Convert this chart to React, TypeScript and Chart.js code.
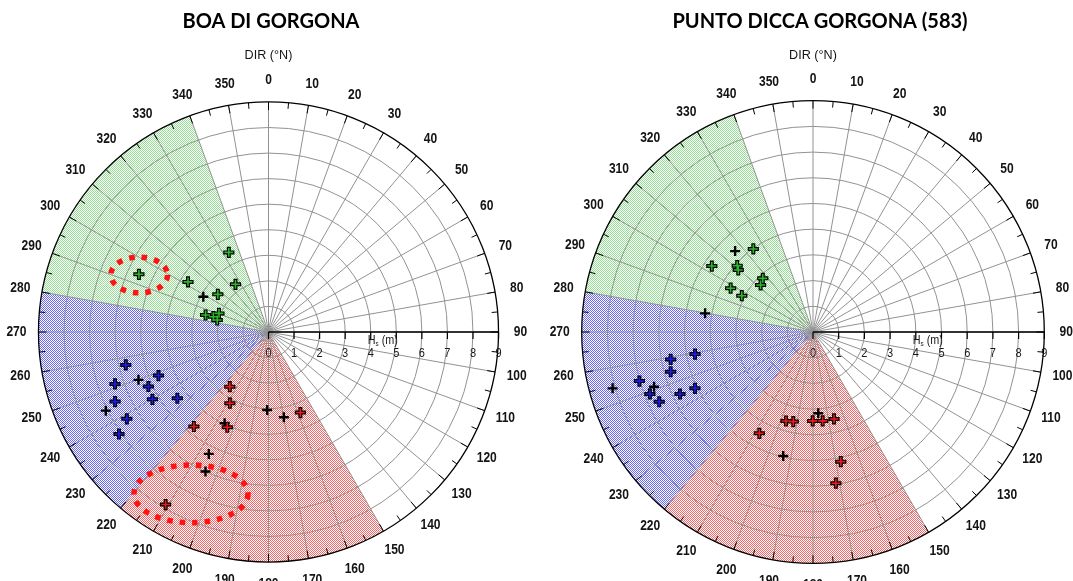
import { useEffect, useRef } from "react";
import { Chart, registerables } from "chart.js";

Chart.register(...registerables);

// Direction labels round the rim (°N) and Hs ticks along the 90° radius (m)
const DIR_LABELS = [
  0, 10, 20, 30, 40, 50, 60, 70, 80, 90, 100, 110, 120, 130, 140, 150, 160, 170,
  180, 190, 200, 210, 220, 230, 240, 250, 260, 270, 280, 290, 300, 310, 320, 330, 340, 350,
];
const HS_TICKS = [0, 1, 2, 3, 4, 5, 6, 7, 8, 9];
const HS_MAX = 9;

// Shaded direction sectors: NW (green), W (blue), S (red)
const SECTOR_FROM = [280, 220, 150];
const SECTOR_TO = [340, 280, 220];
const SECTOR_DOT = ["rgb(150,222,150)", "rgb(104,104,244)", "rgb(242,104,104)"];
const MARK_INK = ["#2ab82a", "#1c1ce6", "#e81c1c"];

// BOA DI GORGONA — direction (°N) and Hs (m)
const boaDirNW = [294.0, 333.5, 301.9, 325.3, 306.6, 285.1, 285.5, 290.6, 283.2];
const boaHsNW = [5.55, 3.48, 3.71, 2.27, 2.47, 2.55, 2.24, 2.07, 2.06];
const boaDirW = [257.0, 248.4, 251.3, 245.6, 245.6, 239.9, 234.0, 238.5, 235.7];
const boaHsW = [5.73, 4.63, 6.34, 5.16, 6.59, 5.25, 4.41, 6.5, 7.08];
const boaDirS = [215.3, 208.5, 158.4, 218.3, 203.4, 210.8];
const boaHsS = [2.62, 3.17, 3.39, 4.71, 4.06, 7.86];
const boaDirOther = [298.4, 249.8, 244.2, 181.0, 169.8, 205.7, 206.1, 204.3];
const boaHsOther = [2.9, 5.42, 7.07, 3.05, 3.39, 3.96, 5.31, 5.99];
// highlighted groups (dotted rings): centre direction/Hs, half-axes in m
const boaRingDir = [293.8, 205.6];
const boaRingHs = [5.53, 7.02];
const boaRingRx = [1.11, 2.23];
const boaRingRy = [0.7, 1.13];

// PUNTO DICCA GORGONA (583) — direction (°N) and Hs (m)
const pdgDirNW = [324.3, 303.1, 311.2, 309.7, 316.9, 311.9, 298.0, 297.0];
const pdgHsNW = [3.98, 4.7, 3.92, 3.78, 2.86, 2.74, 3.63, 3.11];
const pdgDirW = [259.4, 259.1, 254.4, 254.2, 249.2, 245.0, 244.5, 245.6];
const pdgHsW = [4.67, 5.64, 5.75, 7.02, 6.79, 5.71, 5.09, 6.57];
const pdgDirS = [196.9, 192.4, 180.2, 173.8, 166.4, 207.9, 167.9, 171.4];
const pdgHsS = [3.62, 3.57, 3.46, 3.48, 3.48, 4.46, 5.16, 5.95];
const pdgDirOther = [316.1, 279.8, 254.3, 251.0, 176.3, 193.5];
const pdgHsOther = [4.37, 4.26, 8.1, 6.54, 3.17, 4.96];

type Ring = { dir: number[]; hs: number[]; rx: number[]; ry: number[] };
type Panel = {
  title: string;
  groups: { dir: number[]; hs: number[] }[];
  other: { dir: number[]; hs: number[] };
  rings?: Ring;
  width: number;
  cx: number;
  cy: number;
  ppm: number;
  titleX: number;
};

const HEIGHT = 581;

const PANELS: Panel[] = [
  {
    title: "BOA DI GORGONA",
    groups: [
      { dir: boaDirNW, hs: boaHsNW },
      { dir: boaDirW, hs: boaHsW },
      { dir: boaDirS, hs: boaHsS },
    ],
    other: { dir: boaDirOther, hs: boaHsOther },
    rings: { dir: boaRingDir, hs: boaRingHs, rx: boaRingRx, ry: boaRingRy },
    width: 536,
    cx: 268.5,
    cy: 332,
    ppm: 25.56,
    titleX: 271,
  },
  {
    title: "PUNTO DICCA GORGONA (583)",
    groups: [
      { dir: pdgDirNW, hs: pdgHsNW },
      { dir: pdgDirW, hs: pdgHsW },
      { dir: pdgDirS, hs: pdgHsS },
    ],
    other: { dir: pdgDirOther, hs: pdgHsOther },
    width: 537,
    cx: 277,
    cy: 332,
    ppm: 25.7,
    titleX: 284,
  },
];

const GRID = "#929292";
const deg = Math.PI / 180;
const toXY = (d: number, r: number) => ({ x: r * Math.sin(d * deg), y: r * Math.cos(d * deg) });

// fine halftone: checkerboard of ink and white pixels
function dotPattern(ctx: CanvasRenderingContext2D, ink: string) {
  const tile = document.createElement("canvas");
  tile.width = 2;
  tile.height = 2;
  const t = tile.getContext("2d")!;
  t.fillStyle = "#ffffff";
  t.fillRect(0, 0, 2, 2);
  t.fillStyle = ink;
  t.fillRect(0, 0, 1, 1);
  t.fillRect(1, 1, 1, 1);
  return ctx.createPattern(tile, "repeat")!;
}

function squeezedText(ctx: CanvasRenderingContext2D, text: string, x: number, y: number, sx: number) {
  ctx.save();
  ctx.translate(x, y);
  ctx.scale(sx, 1);
  ctx.fillText(text, 0, 0);
  ctx.restore();
}

function framePlugin(panel: Panel) {
  return {
    id: "polarFrame",
    beforeDatasetsDraw(chart: any) {
      const ctx: CanvasRenderingContext2D = chart.ctx;
      const xs = chart.scales.x;
      const ys = chart.scales.y;
      const ox = xs.getPixelForValue(0);
      const oy = ys.getPixelForValue(0);
      const unit = xs.getPixelForValue(1) - ox;
      const R = unit * HS_MAX;
      const ang = (d: number) => (d - 90) * deg;
      const at = (d: number, r: number) => [ox + r * Math.sin(d * deg), oy - r * Math.cos(d * deg)];

      ctx.save();
      // sector shading
      SECTOR_FROM.forEach((from, i) => {
        ctx.beginPath();
        ctx.moveTo(ox, oy);
        ctx.arc(ox, oy, R, ang(from), ang(SECTOR_TO[i]));
        ctx.closePath();
        ctx.fillStyle = dotPattern(ctx, SECTOR_DOT[i]);
        ctx.fill();
      });

      // Hs rings
      ctx.strokeStyle = GRID;
      ctx.lineWidth = 1;
      HS_TICKS.forEach((t) => {
        if (t <= 0 || t >= HS_MAX) return;
        ctx.beginPath();
        ctx.arc(ox, oy, t * unit, 0, Math.PI * 2);
        ctx.stroke();
      });
      // direction spokes
      DIR_LABELS.forEach((d) => {
        const [x, y] = at(d, R);
        ctx.beginPath();
        ctx.moveTo(ox, oy);
        ctx.lineTo(x, y);
        ctx.stroke();
      });

      // rim ticks every 5°
      ctx.strokeStyle = "#000";
      ctx.lineWidth = 1;
      for (let d = 0; d < 360; d += 5) {
        const [x1, y1] = at(d, R);
        const [x2, y2] = at(d, R - (d % 10 === 0 ? 8 : 6));
        ctx.beginPath();
        ctx.moveTo(x1, y1);
        ctx.lineTo(x2, y2);
        ctx.stroke();
      }
      // rim
      ctx.lineWidth = 1.3;
      ctx.beginPath();
      ctx.arc(ox, oy, R, 0, Math.PI * 2);
      ctx.stroke();

      // Hs axis along 90°
      ctx.lineWidth = 1.5;
      ctx.beginPath();
      ctx.moveTo(ox, oy);
      ctx.lineTo(ox + R, oy);
      ctx.stroke();
      ctx.lineWidth = 1.2;
      HS_TICKS.forEach((t) => {
        const x = xs.getPixelForValue(t);
        ctx.beginPath();
        ctx.moveTo(x, oy);
        ctx.lineTo(x, oy + 7);
        ctx.stroke();
      });

      // Hs tick labels
      ctx.fillStyle = "#1a1a1a";
      ctx.textAlign = "center";
      ctx.textBaseline = "middle";
      ctx.font = "12px 'Liberation Sans', Arial, sans-serif";
      HS_TICKS.forEach((t) => {
        squeezedText(ctx, String(t), xs.getPixelForValue(t), oy + 22, 0.92);
      });
      // Hs axis name with subscript
      ctx.textAlign = "left";
      ctx.textBaseline = "alphabetic";
      let hx = xs.getPixelForValue(4) - 3;
      const hy = oy + 11.5;
      ctx.font = "12px 'Liberation Sans', Arial, sans-serif";
      squeezedText(ctx, "H", hx, hy, 0.9);
      hx += ctx.measureText("H").width * 0.9;
      ctx.font = "7px 'Liberation Sans', Arial, sans-serif";
      squeezedText(ctx, "s", hx, hy + 2, 0.9);
      hx += ctx.measureText("s").width * 0.9;
      ctx.font = "12px 'Liberation Sans', Arial, sans-serif";
      squeezedText(ctx, " (m)", hx, hy, 0.9);

      // direction labels
      ctx.fillStyle = "#141414";
      ctx.textAlign = "center";
      ctx.textBaseline = "middle";
      ctx.font = "bold 14px 'Liberation Sans', Arial, sans-serif";
      DIR_LABELS.forEach((d) => {
        const [x, y] = at(d, R + 22);
        squeezedText(ctx, String(d), x, y, 0.86);
      });

      // axis caption and title
      ctx.textBaseline = "alphabetic";
      ctx.font = "13px 'Liberation Sans', Arial, sans-serif";
      squeezedText(ctx, "DIR (°N)", ox, 58.5, 0.97);
      ctx.fillStyle = "#000";
      ctx.font = "bold 20px Lato, 'Open Sans', sans-serif";
      ctx.fillText(panel.title, panel.titleX, 27.5);
      ctx.restore();
    },
    afterDatasetsDraw(chart: any) {
      const ring = panel.rings;
      if (!ring) return;
      const ctx: CanvasRenderingContext2D = chart.ctx;
      const xs = chart.scales.x;
      const ys = chart.scales.y;
      const unit = xs.getPixelForValue(1) - xs.getPixelForValue(0);
      ctx.save();
      ctx.strokeStyle = "#ff1212";
      ctx.lineWidth = 5.5;
      ctx.setLineDash([5.5, 7]);
      ring.dir.forEach((d, i) => {
        const c = toXY(d, ring.hs[i]);
        ctx.beginPath();
        ctx.ellipse(
          xs.getPixelForValue(c.x),
          ys.getPixelForValue(c.y),
          ring.rx[i] * unit,
          ring.ry[i] * unit,
          0,
          0,
          Math.PI * 2
        );
        ctx.stroke();
      });
      ctx.restore();
    },
  };
}

function buildConfig(panel: Panel): any {
  const datasets: any[] = [];
  panel.groups.forEach((g, i) => {
    const pts = g.dir.map((d, k) => toXY(d, g.hs[k]));
    datasets.push({
      data: pts,
      pointStyle: "cross",
      pointRadius: 4.4,
      pointBorderWidth: 1.6,
      pointBorderColor: MARK_INK[i],
      pointBackgroundColor: MARK_INK[i],
      order: 0,
    });
    datasets.push({
      data: pts,
      pointStyle: "cross",
      pointRadius: 5.6,
      pointBorderWidth: 4,
      pointBorderColor: "#000",
      pointBackgroundColor: "#000",
      order: 2,
    });
  });
  datasets.push({
    data: panel.other.dir.map((d, k) => toXY(d, panel.other.hs[k])),
    pointStyle: "cross",
    pointRadius: 5,
    pointBorderWidth: 2.4,
    pointBorderColor: "#000",
    pointBackgroundColor: "#000",
    order: 1,
  });

  const { width, cx, cy, ppm } = panel;
  return {
    type: "scatter",
    data: { datasets },
    options: {
      animation: false,
      responsive: false,
      events: [],
      layout: { padding: 0, autoPadding: false },
      plugins: {
        legend: { display: false },
        tooltip: { enabled: false },
        title: { display: false },
      },
      scales: {
        x: { type: "linear", display: false, min: -cx / ppm, max: (width - cx) / ppm },
        y: { type: "linear", display: false, min: -(HEIGHT - cy) / ppm, max: cy / ppm },
      },
    },
    plugins: [framePlugin(panel)],
  };
}

function PolarPanel({ panel }: { panel: Panel }) {
  const ref = useRef<HTMLCanvasElement>(null);
  useEffect(() => {
    const chart = new Chart(ref.current!, buildConfig(panel));
    return () => chart.destroy();
  }, [panel]);
  return (
    <canvas
      ref={ref}
      width={panel.width}
      height={HEIGHT}
      style={{ display: "block", width: panel.width, height: HEIGHT }}
    />
  );
}

export default function App() {
  return (
    <div
      style={{
        position: "fixed",
        left: 0,
        top: 0,
        width: 1073,
        height: HEIGHT,
        background: "#ffffff",
        display: "flex",
        overflow: "hidden",
      }}
    >
      {PANELS.map((p) => (
        <PolarPanel key={p.title} panel={p} />
      ))}
    </div>
  );
}
